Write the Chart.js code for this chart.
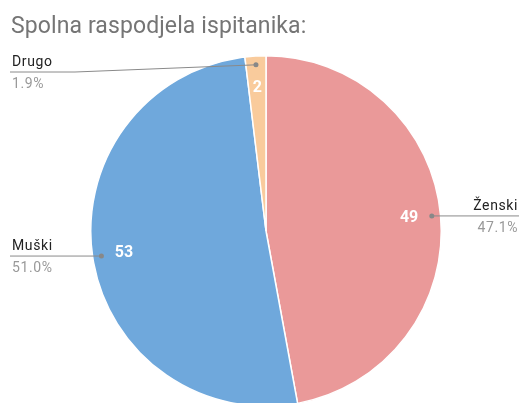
<!DOCTYPE html>
<html>
<head>
<meta charset="utf-8">
<style>
  html, body { margin: 0; padding: 0; overflow: hidden; background: #fff; }
  #wrap { width: 520px; height: 403px; overflow: hidden; position: relative; }
  canvas { display: block; }
</style>
</head>
<body>
<div id="wrap"><canvas id="myChart" width="520" height="410"></canvas></div>
<script src="https://cdn.jsdelivr.net/npm/chart.js@4.4.0/dist/chart.umd.min.js"></script>
<script>
  const title = 'Spolna raspodjela ispitanika:';
  const labels = ['Ženski', 'Muški', 'Drugo'];
  const values = [49, 53, 2];
  const colors = ['#EA9999', '#6FA8DC', '#F9CB9C'];

  const total = values.reduce((a, b) => a + b, 0);

  // naslov, vrijednosti u kriškama i oznake s linijama
  const labelPlugin = {
    id: 'pieLabels',
    afterDraw(chart) {
      const ctx = chart.ctx;
      ctx.save();
      ctx.fillStyle = '#757575';
      ctx.font = '23px Roboto, Arial, sans-serif';
      ctx.letterSpacing = '0.1px';
      ctx.textAlign = 'left';
      ctx.textBaseline = 'alphabetic';
      ctx.fillText(title, 11, 33);

      const meta = chart.getDatasetMeta(0);
      meta.data.forEach((arc, i) => {
        const mid = (arc.startAngle + arc.endAngle) / 2;
        const r = arc.outerRadius;
        const cos = Math.cos(mid), sin = Math.sin(mid);

        // broj u kriški
        ctx.letterSpacing = '0px';
        ctx.fillStyle = '#ffffff';
        ctx.font = 'bold 16px Roboto, Arial, sans-serif';
        ctx.textAlign = 'center';
        ctx.textBaseline = 'middle';
        ctx.fillText(String(values[i]), arc.x + cos * r * 0.82, arc.y + sin * r * 0.82);

        // linija do oznake
        const dx = arc.x + cos * r * 0.95;
        const dy = arc.y + sin * r * 0.95;
        const right = cos > 0;
        const lineY = Math.max(dy, 72);
        const edgeX = right ? 519 : 10;
        const kneeX = right ? 470 : 75;
        ctx.strokeStyle = '#8a8a8a';
        ctx.lineWidth = 1;
        ctx.beginPath();
        ctx.moveTo(edgeX, lineY);
        ctx.lineTo(kneeX, lineY);
        ctx.lineTo(dx, dy);
        ctx.stroke();
        ctx.fillStyle = '#888888';
        ctx.beginPath();
        ctx.arc(dx, dy, 2.5, 0, Math.PI * 2);
        ctx.fill();

        const pct = (values[i] / total * 100).toFixed(1) + '%';
        const tx = right ? 518 : 12;
        ctx.textAlign = right ? 'right' : 'left';
        ctx.textBaseline = 'alphabetic';
        ctx.font = '14px Roboto, Arial, sans-serif';
        ctx.letterSpacing = '0.6px';
        ctx.fillStyle = '#222222';
        ctx.fillText(labels[i], tx, lineY - 6);
        ctx.fillStyle = '#999999';
        ctx.fillText(pct, tx, lineY + 16);
      });
      ctx.restore();
    }
  };

  new Chart(document.getElementById('myChart'), {
    type: 'pie',
    data: {
      labels: labels,
      datasets: [{
        data: values,
        backgroundColor: colors,
        borderColor: '#ffffff',
        borderWidth: 1.5
      }]
    },
    options: {
      responsive: false,
      animation: false,
      layout: { padding: { left: 90, right: 78, top: 55, bottom: 3 } },
      plugins: {
        legend: { display: false },
        tooltip: { enabled: false }
      }
    },
    plugins: [labelPlugin]
  });
</script>
</body>
</html>
